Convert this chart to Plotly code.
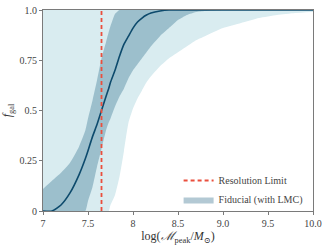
import plotly.graph_objects as go

x = [7.0, 7.1, 7.2, 7.3, 7.4, 7.47, 7.5, 7.55, 7.6, 7.65, 7.7, 7.73, 7.75, 7.8, 7.85, 7.9, 7.95, 8.0,
     8.05, 8.1, 8.15, 8.2, 8.3, 8.4, 8.5, 8.6, 8.7, 8.8, 9.0, 9.2, 9.4, 9.6, 9.8, 10.0]
median = [0, 0, 0.03, 0.09, 0.18, 0.26, 0.30, 0.37, 0.43, 0.50, 0.57, 0.61, 0.64, 0.70, 0.77, 0.83, 0.87, 0.91,
          0.94, 0.96, 0.975, 0.985, 0.995, 1, 1, 1, 1, 1, 1, 1, 1, 1, 1, 1]
dark_hi = [0.11, 0.15, 0.19, 0.24, 0.32, 0.40, 0.46, 0.55, 0.65, 0.76, 0.84, 0.89, 0.92, 0.98, 1, 1, 1, 1,
           1, 1, 1, 1, 1, 1, 1, 1, 1, 1, 1, 1, 1, 1, 1, 1]
dark_lo = [0, 0, 0, 0, 0, 0, 0.05, 0.12, 0.22, 0.31, 0.40, 0.44, 0.46, 0.52, 0.57, 0.61, 0.66, 0.70,
           0.73, 0.76, 0.79, 0.82, 0.87, 0.91, 0.95, 0.975, 0.99, 0.995, 1, 1, 1, 1, 1, 1]
light_hi = [1] * len(x)
light_lo = [0, 0, 0, 0, 0, 0, 0, 0, 0, 0, 0, 0, 0.03, 0.08, 0.17, 0.30, 0.44, 0.51,
            0.56, 0.60, 0.64, 0.67, 0.72, 0.76, 0.79, 0.82, 0.85, 0.87, 0.91, 0.935, 0.96, 0.975, 0.985, 0.99]
res_limit = 7.65

xtick_vals = [7, 7.5, 8, 8.5, 9, 9.5, 10]
xtick_text = ["7", "7.5", "8", "8.5", "9.0", "9.5", "10.0"]
ytick_vals = [0, 0.25, 0.5, 0.75, 1.0]
ytick_text = ["0", "0.25", "0.5", "0.75", "1.0"]

LIGHT = "#d9ecf0"
DARK = "#9cbfcc"
LINE = "#0d4a6c"
RED = "#ea4f3d"
FONT = "Liberation Serif, DejaVu Serif, serif"

fig = go.Figure()
fig.add_trace(go.Scatter(x=x, y=light_lo, mode="lines", line=dict(width=0, shape="spline", smoothing=0.5),
                         showlegend=False, hoverinfo="skip"))
fig.add_trace(go.Scatter(x=x, y=light_hi, mode="lines", line=dict(width=0, shape="spline", smoothing=0.5),
                         fill="tonexty", fillcolor=LIGHT, showlegend=False, hoverinfo="skip"))
fig.add_trace(go.Scatter(x=x, y=dark_lo, mode="lines", line=dict(width=0, shape="spline", smoothing=0.5),
                         showlegend=False, hoverinfo="skip"))
fig.add_trace(go.Scatter(x=x, y=dark_hi, mode="lines", line=dict(width=0, shape="spline", smoothing=0.5),
                         fill="tonexty", fillcolor=DARK, showlegend=False, hoverinfo="skip"))
fig.add_trace(go.Scatter(x=x, y=median, mode="lines", line=dict(color=LINE, width=1.6, shape="spline", smoothing=0.5),
                         showlegend=False))
fig.add_trace(go.Scatter(x=[res_limit, res_limit], y=[0, 1], mode="lines",
                         line=dict(color=RED, width=1.8, dash="4px,3px"), name="Resolution Limit"))
fig.add_trace(go.Scatter(x=[None], y=[None], mode="lines", fill="toself", fillcolor="#b3c9d4",
                         line=dict(width=0, color="#b3c9d4"), name="Fiducial (with LMC)"))

axis_common = dict(showgrid=False, zeroline=False, showline=True, mirror=True, linecolor="#7a7a7a",
                   linewidth=1, ticks="outside", ticklen=3, tickcolor="#7a7a7a",
                   tickfont=dict(family=FONT, size=10, color="#444"))
fig.update_xaxes(range=[7, 10], tickvals=xtick_vals, ticktext=xtick_text,
                 title=dict(text="log(<i>ℳ</i><sub>peak</sub>/<i>M</i><sub>⊙</sub>)",
                            font=dict(family=FONT, size=12, color="#333"), standoff=3),
                 **axis_common)
fig.update_yaxes(range=[0, 1], tickvals=ytick_vals, ticktext=ytick_text,
                 title=dict(text="<i>f</i><sub>gal</sub>", font=dict(family=FONT, size=12, color="#333"), standoff=5),
                 **axis_common)
fig.update_layout(width=328, height=246, margin=dict(l=43, r=15, t=10, b=35, autoexpand=False),
                  plot_bgcolor="white", paper_bgcolor="white",
                  legend=dict(x=0.98, y=-0.015, xanchor="right", yanchor="bottom", bgcolor="rgba(0,0,0,0)",
                              traceorder="normal",
                              font=dict(family=FONT, size=10, color="#444"), tracegroupgap=0, itemwidth=30))
fig.write_html(
    "out.html",
    config={"displayModeBar": False},
    post_script=(
        "document.documentElement.style.margin='0';"
        "document.body.style.margin='0';document.body.style.padding='0';"
        "var gd=document.getElementById('{plot_id}');"
        "gd.style.position='absolute';gd.style.left='0px';gd.style.top='0px';"
    ),
)
